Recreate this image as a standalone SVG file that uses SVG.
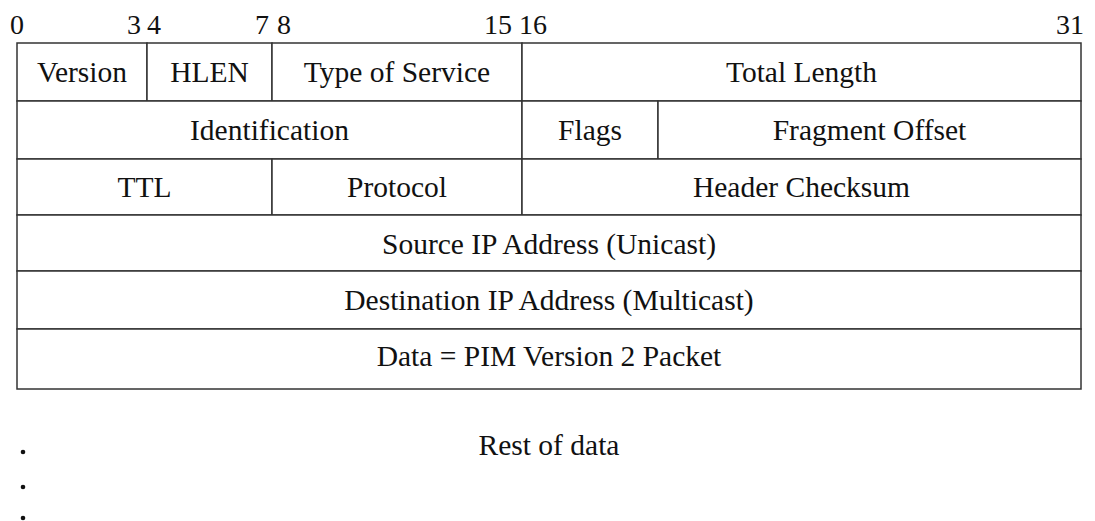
<svg xmlns="http://www.w3.org/2000/svg" width="1095" height="521" viewBox="0 0 1095 521">
  <style>
    .lbl { font-family: "Liberation Serif", "Times New Roman", serif; font-size: 29.5px; fill: #111; text-anchor: middle; }
    .bit { font-family: "Liberation Serif", "Times New Roman", serif; font-size: 28px; fill: #111; }
    .end { text-anchor: end; }
    .dot { fill: #111; }
    .cell { fill: #fff; stroke: #333; stroke-width: 1.5; }
  </style>
  <rect width="1095" height="521" fill="#fff"/>

  <!-- bit positions above the header words -->
  <g id="bit-ruler">
    <text class="bit" x="10" y="34">0</text>
    <text class="bit end" x="141" y="34">3</text>
    <text class="bit" x="147" y="34">4</text>
    <text class="bit end" x="269" y="34">7</text>
    <text class="bit" x="277" y="34">8</text>
    <text class="bit end" x="512" y="34">15</text>
    <text class="bit" x="519" y="34">16</text>
    <text class="bit end" x="1084" y="34">31</text>
  </g>

  <!-- word 1 -->
  <g id="version"><rect class="cell" x="17" y="43" width="130" height="58"/><text class="lbl" x="82" y="82">Version</text></g>
  <g id="hlen"><rect class="cell" x="147" y="43" width="125" height="58"/><text class="lbl" x="209.5" y="82">HLEN</text></g>
  <g id="type-of-service"><rect class="cell" x="272" y="43" width="250" height="58"/><text class="lbl" x="397" y="82">Type of Service</text></g>
  <g id="total-length"><rect class="cell" x="522" y="43" width="559" height="58"/><text class="lbl" x="801.5" y="82">Total Length</text></g>

  <!-- word 2 -->
  <g id="identification"><rect class="cell" x="17" y="101" width="505" height="58"/><text class="lbl" x="269.5" y="140">Identification</text></g>
  <g id="flags"><rect class="cell" x="522" y="101" width="136" height="58"/><text class="lbl" x="590" y="140">Flags</text></g>
  <g id="fragment-offset"><rect class="cell" x="658" y="101" width="423" height="58"/><text class="lbl" x="869.5" y="140">Fragment Offset</text></g>

  <!-- word 3 -->
  <g id="ttl"><rect class="cell" x="17" y="159" width="255" height="56"/><text class="lbl" x="144.5" y="197">TTL</text></g>
  <g id="protocol"><rect class="cell" x="272" y="159" width="250" height="56"/><text class="lbl" x="397" y="197">Protocol</text></g>
  <g id="header-checksum"><rect class="cell" x="522" y="159" width="559" height="56"/><text class="lbl" x="801.5" y="197">Header Checksum</text></g>

  <!-- full-width words -->
  <g id="source-ip"><rect class="cell" x="17" y="215" width="1064" height="56"/><text class="lbl" x="549" y="254">Source IP Address (Unicast)</text></g>
  <g id="destination-ip"><rect class="cell" x="17" y="271" width="1064" height="58"/><text class="lbl" x="549" y="310">Destination IP Address (Multicast)</text></g>
  <g id="data"><rect class="cell" x="17" y="329" width="1064" height="60"/><text class="lbl" x="549" y="366">Data = PIM Version 2 Packet</text></g>

  <!-- continuation below the header -->
  <g id="rest-of-data">
    <text class="lbl" x="549" y="455">Rest of data</text>
    <circle class="dot" cx="23" cy="452" r="2.3"/>
    <circle class="dot" cx="23" cy="487" r="2.3"/>
    <circle class="dot" cx="23" cy="518" r="2.3"/>
  </g>
</svg>
